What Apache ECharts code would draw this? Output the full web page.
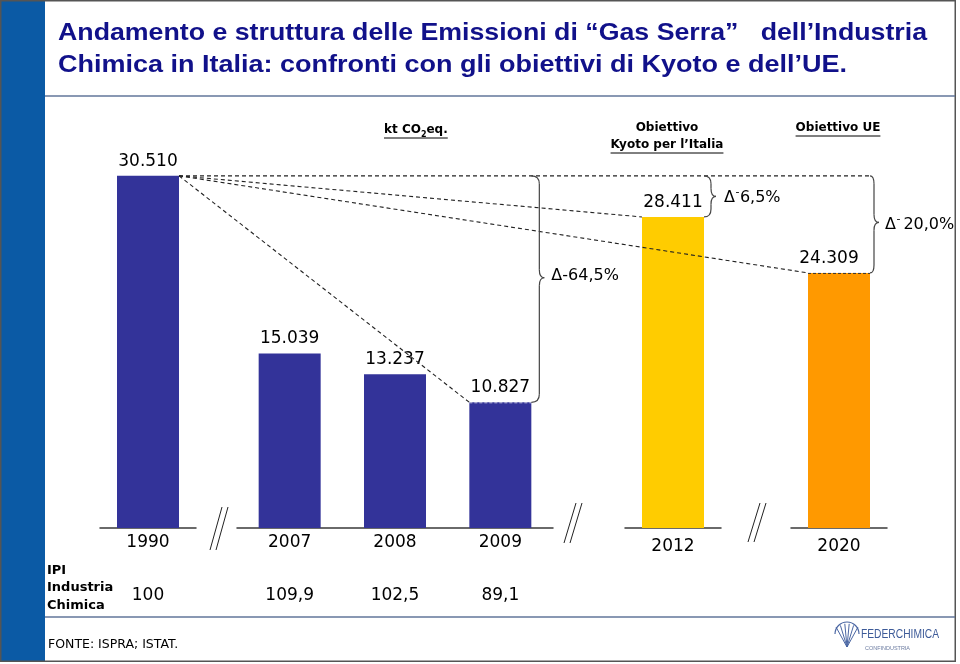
<!DOCTYPE html>
<html><head><meta charset="utf-8">
<script src="https://cdn.jsdelivr.net/npm/echarts@6/dist/echarts.min.js"></script>
<style>html,body{margin:0;padding:0;background:#fff;}#chart{width:960px;height:664px;}</style>
</head><body><div id="chart"></div>
<script>
// ---- data ----
const years = ['1990', '2007', '2008', '2009', '2012', '2020'];
const emissions = [30510, 15039, 13237, 10827, 28411, 24309];
const ipiValues = ['100', '109,9', '102,5', '89,1', '', ''];
const segments = [[0], [1, 2, 3], [4], [5]];          // broken-axis groups
const segmentColors = ['#333399', '#333399', '#FFCC00', '#FF9900'];
const segmentAxisMax = [35000, 34800, 36900, 38500];
const deltaLabels = ['Δ-64,5%', 'Δ⁻6,5%', 'Δ⁻ 20,0%'];
const titleLines = ['Andamento e struttura delle Emissioni di “Gas Serra”   dell’Industria',
                    'Chimica in Italia: confronti con gli obiettivi di Kyoto e dell’UE.'];
const unitLabel = ['kt CO', '2', 'eq.'];
const kyotoHeader = ['Obiettivo', 'Kyoto per l’Italia'];
const ueHeader = 'Obiettivo UE';
const ipiHeader = 'IPI\nIndustria\nChimica';
const sourceText = 'FONTE: ISPRA; ISTAT.';
const logoText = ['FEDERCHIMICA', 'CONFINDUSTRIA'];

// ---- layout ----
const FONT = '"DejaVu Sans", Verdana, sans-serif';
const TFONT = '"Liberation Sans", Arial, sans-serif';
const gridLeft = [100, 237, 625, 791];
const gridWidth = [96, 316, 96, 96];
const GRID_TOP = 124, GRID_H = 404, BAR_W = 62;

const fmt = v => String(v).replace(/\B(?=(\d{3})+(?!\d))/g, '.');
const ctx = document.createElement('canvas').getContext('2d');
const tw = (t, f) => { ctx.font = f; return ctx.measureText(t).width; };

const chart = echarts.init(document.getElementById('chart'), null, {renderer: 'canvas'});
chart.setOption({
  animation: false,
  backgroundColor: '#fff',
  grid: segments.map((s, i) => ({left: gridLeft[i], width: gridWidth[i], top: GRID_TOP, height: GRID_H})),
  xAxis: segments.map((seg, i) => ({
    type: 'category', gridIndex: i, data: seg.map(k => years[k]),
    axisLine: {lineStyle: {color: '#3a3a3a', width: 1.5}},
    axisTick: {show: false}, splitLine: {show: false},
    axisLabel: {
      interval: 0, margin: 4,
      formatter: (v, idx) => i < 2 ? `{y|${v}}\n{v|${ipiValues[seg[idx]]}}` : `{z|${v}}`,
      rich: {
        y: {fontFamily: FONT, fontSize: 17, lineHeight: 22, color: '#000'},
        v: {fontFamily: FONT, fontSize: 17, lineHeight: 84, color: '#000'},
        z: {fontFamily: FONT, fontSize: 17, lineHeight: 30, color: '#000'}
      }
    }
  })),
  yAxis: segments.map((s, i) => ({type: 'value', gridIndex: i, min: 0, max: segmentAxisMax[i], show: false})),
  series: segments.map((seg, i) => ({
    type: 'bar', xAxisIndex: i, yAxisIndex: i, barWidth: BAR_W, silent: true,
    itemStyle: {color: segmentColors[i]},
    label: {show: true, position: 'top', distance: 6, fontFamily: FONT, fontSize: 17, color: '#000',
            formatter: p => fmt(p.value), offset: i === 3 ? [-10, 0] : [0, 0]},
    data: seg.map(k => emissions[k])
  }))
});

// ---- annotations computed from the axes ----
function barTop(k) {
  const s = segments.findIndex(seg => seg.includes(k));
  const idx = segments[s].indexOf(k);
  const p = chart.convertToPixel({gridIndex: s}, [idx, emissions[k]]);
  return {cx: p[0], y: p[1], l: p[0] - BAR_W / 2, r: p[0] + BAR_W / 2};
}
const b = years.map((_, k) => barTop(k));
const G = [];
const txt = (x, y, text, font, opt = {}) => G.push(Object.assign({type: 'text', x, y, silent: true, z: 10,
  style: {text, font, fill: opt.fill || '#000', align: opt.align || 'left', verticalAlign: 'middle', lineHeight: opt.lh}}, opt.el || {}));
const line = (x1, y1, x2, y2, style) => G.push({type: 'line', silent: true, z: 9, shape: {x1, y1, x2, y2}, style});

// background decorations
G.push({type: 'rect', silent: true, z: 1, shape: {x: 0, y: 0, width: 45, height: 662}, style: {fill: '#0b5aa5'}});
G.push({type: 'rect', silent: true, z: 1, shape: {x: 0.75, y: 0.75, width: 954.5, height: 660.5}, style: {fill: null, stroke: '#555', lineWidth: 1.5}});
line(45, 96, 955, 96, {stroke: '#62769a', lineWidth: 1.5});
line(45, 617, 955, 617, {stroke: '#62769a', lineWidth: 1.5});

// title
const tf = `bold 24px ${TFONT}`;
const titleTargets = [[58, 33, 869], [58, 65, 789]];
titleLines.forEach((t, i) => {
  const [x, y, w] = titleTargets[i];
  txt(x, y, t, tf, {fill: '#11118a', el: {scaleX: w / tw(t, tf)}});
});

// headers
const hf = `bold 12px ${FONT}`, hs = `bold 8px ${FONT}`;
let ux = 384;
const w1 = tw(unitLabel[0], hf), w2 = tw(unitLabel[1], hs), w3 = tw(unitLabel[2], hf);
txt(ux, 130, unitLabel[0], hf);
txt(ux + w1, 135, unitLabel[1], hs);
txt(ux + w1 + w2, 130, unitLabel[2], hf);
line(ux, 138, ux + w1 + w2 + w3, 138, {stroke: '#000', lineWidth: 1});
const kx = b[4].cx - 6;
txt(kx, 128, kyotoHeader[0], hf, {align: 'center'});
txt(kx, 145, kyotoHeader[1], hf, {align: 'center'});
const kw = tw(kyotoHeader[1], hf);
line(kx - kw / 2, 153, kx + kw / 2, 153, {stroke: '#000', lineWidth: 1});
const ex = b[5].cx - 1;
txt(ex, 128, ueHeader, hf, {align: 'center'});
const ew = tw(ueHeader, hf);
line(ex - ew / 2, 136, ex + ew / 2, 136, {stroke: '#000', lineWidth: 1});

// dashed guide lines from 1990
const dash = {stroke: '#222', lineWidth: 1.1, lineDash: [4, 3]};
line(b[0].r, b[0].y, b[5].r, b[0].y, dash);
line(b[0].r, b[0].y, b[4].l, b[4].y, dash);
line(b[0].r, b[0].y, b[5].l, b[5].y, dash);
line(b[0].r, b[0].y, b[3].l, b[3].y, dash);
line(b[3].l, b[3].y + 0.5, b[3].r, b[3].y + 0.5, {stroke: '#c8c8e0', lineWidth: 1, lineDash: [3, 2]});
line(b[5].l, b[5].y + 0.5, b[5].r, b[5].y + 0.5, {stroke: '#333', lineWidth: 1, lineDash: [3, 2]});

// braces
function brace(xL, yT, yB, xV, frac) {
  const tip = yT + (yB - yT) * frac, d = 5;
  const r = Math.min(8, (tip - yT) / 2, (yB - tip) / 2);
  const st = {stroke: '#444', lineWidth: 1.2, fill: null};
  const bz = (x1, y1, x2, y2, cx, cy) => G.push({type: 'bezierCurve', silent: true, z: 9, shape: {x1, y1, x2, y2, cpx1: cx, cpy1: cy}, style: st});
  bz(xL, yT, xV, yT + r, xV, yT);
  line(xV, yT + r, xV, tip - r, st);
  bz(xV, tip - r, xV + d, tip, xV, tip);
  bz(xV + d, tip, xV, tip + r, xV, tip);
  line(xV, tip + r, xV, yB - r, st);
  bz(xV, yB - r, xL, yB, xV, yB);
  return {x: xV + d, y: tip};
}
const dfont = `16px ${FONT}`, dsmall = `11px ${FONT}`;
function deltaText(x, y, label) {
  if (!label.includes('⁻')) { txt(x, y, label, dfont); return; }
  const [a, rest] = label.split('⁻');
  const wa = tw(a, dfont), wm = tw('-', dsmall);
  txt(x, y, a, dfont);
  txt(x + wa + 0.5, y - 5, '-', dsmall);
  const gap = rest.startsWith(' ') ? 3 : 0.5;
  txt(x + wa + wm + gap + 0.5, y, rest.trim(), dfont);
}
const tA = brace(b[3].r, b[0].y, b[3].y, b[3].r + 8, 0.45);
deltaText(tA.x + 7, tA.y - 2, deltaLabels[0]);
const tB = brace(b[4].r, b[0].y, b[4].y, b[4].r + 7, 0.5);
deltaText(tB.x + 8, tB.y + 1, deltaLabels[1]);
const tC = brace(b[5].r, b[0].y, b[5].y, b[5].r + 4, 0.48);
deltaText(tC.x + 6, tC.y + 2, deltaLabels[2]);

// axis breaks
[[219, 550, 507], [573, 543, 503], [757, 542, 503]].forEach(([c, yb, yt]) => {
  for (let k = 0; k < 2; k++) line(c - 9 + 6 * k, yb, c + 3 + 6 * k, yt, {stroke: '#222', lineWidth: 1});
});

// IPI row header and source
txt(47, 588, ipiHeader, `bold 13px ${FONT}`, {lh: 17.5});
txt(48, 645, sourceText, `12.5px ${FONT}`);

// logo
for (let k = 0; k < 6; k++) line(847, 647, 836 + k * 4.4, 623 + Math.abs(k - 2.5) * 1.6, {stroke: '#4a66a3', lineWidth: 1});
G.push({type: 'arc', silent: true, z: 9, shape: {cx: 847, cy: 634, r: 12, startAngle: Math.PI, endAngle: 2 * Math.PI}, style: {stroke: '#4a66a3', lineWidth: 1.2, fill: null}});
const lf = `12.5px ${TFONT}`, lf2 = `6px ${TFONT}`;
txt(861, 635, logoText[0], lf, {fill: '#3c5a98', el: {scaleX: 78 / tw(logoText[0], lf)}});
txt(865, 648, logoText[1], lf2, {fill: '#6b7ba0', el: {scaleX: 45 / tw(logoText[1], lf2)}});

chart.setOption({graphic: {elements: G}});
</script></body></html>
